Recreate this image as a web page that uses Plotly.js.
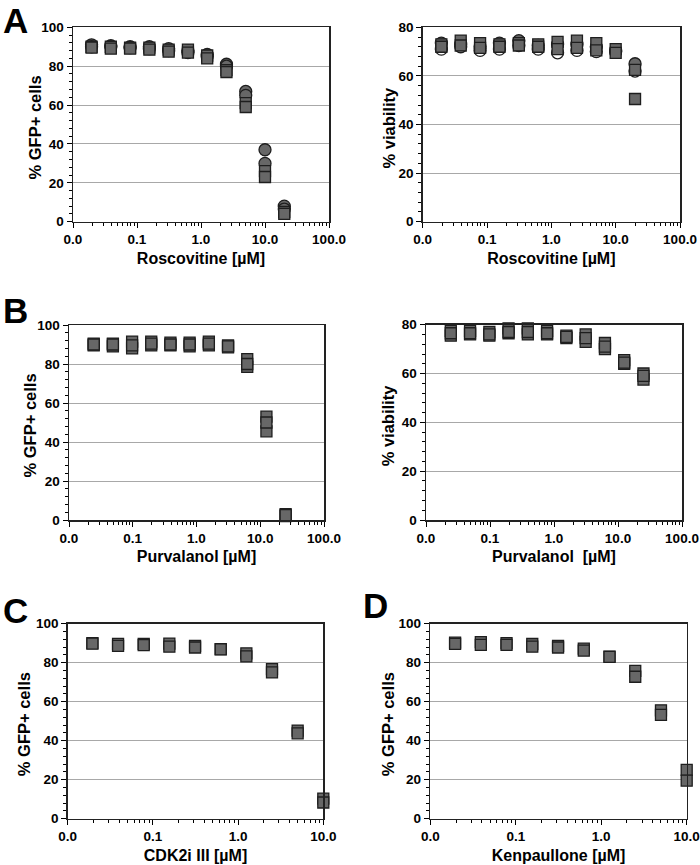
<!DOCTYPE html>
<html>
<head>
<meta charset="utf-8">
<script src="https://cdn.plot.ly/plotly-3.0.1.min.js"></script>
<style>html,body{margin:0;padding:0;background:#fff;}#chart{width:700px;height:865px;}</style>
</head>
<body>
<div id="chart"></div>
<script>
// ---------------- data ----------------
const rosConc = [0.0195, 0.039, 0.078, 0.156, 0.3125, 0.625, 1.25, 2.5, 5, 10, 20];
const rosGfpCircleA = [91, 90.5, 90, 90, 89, 88, 86, 81, 67, 37, 8];
const rosGfpCircleB = [90, 90, 89.5, 89, 88, 87, 85, 80, 65, 30, 6.5];
const rosGfpSquareA = [90, 90, 89.5, 89.5, 88.5, 88.5, 85.5, 78, 61, 26, 5];
const rosGfpSquareB = [89.5, 89, 89, 88.5, 87.5, 87, 84, 77, 59, 23, 4];

const rosViaOpen    = [71, 72, 70.5, 71, 72.5, 71, 69.5, 70.5, 70, 70, 62];
const rosViaCircle  = [73.5, 73, 72, 73.5, 74.5, 72.5, 73, 73, 72, 70.5, 65];
const rosViaSquareA = [73, 74.5, 73.5, 73, 73.5, 73, 74, 74.5, 73.5, 71, 62.5];
const rosViaSquareB = [72, 72.5, 71.5, 72, 72.5, 72, 71, 71.5, 70.5, 69.5, 50.5];

const purConc = [0.0244, 0.0488, 0.0977, 0.195, 0.39, 0.78, 1.5625, 3.125, 6.25, 12.5, 25];
const purGfpA = [90.5, 90.5, 91.5, 91.5, 91, 91, 91.5, 89.5, 82.5, 53, 3];
const purGfpB = [89.5, 89, 88, 89.5, 89.5, 89, 89.5, 88.5, 78.5, 45.5, 2];
const purGfpC = [90, 90, 89.5, 90.5, 90, 90, 90.5, 89, 80, 50, 2.5];

const purViaA = [77.5, 77.5, 77, 78.5, 78.5, 77.5, 75.5, 76, 72.5, 65.5, 60];
const purViaB = [75.5, 76, 75.5, 76.5, 76, 76, 74.5, 73, 70, 64, 57.5];
const purViaC = [76.5, 76.5, 76, 77, 77, 76.5, 75, 74.5, 71, 64.5, 59];

const cdkConc = [0.0195, 0.039, 0.078, 0.156, 0.3125, 0.625, 1.25, 2.5, 5, 10];
const cdkGfpA = [90, 89.7, 89.7, 89.8, 88.6, 87, 84.8, 76.7, 45.2, 10.3];
const cdkGfpB = [89.8, 88.6, 89, 88.2, 87.8, 86.8, 83.2, 75, 43.8, 8.3];

const kenConc = [0.0195, 0.039, 0.078, 0.156, 0.3125, 0.625, 1.25, 2.5, 5, 10];
const kenGfpA = [90.3, 90.6, 90, 89.6, 88.6, 87.2, 83.1, 75.8, 55.6, 25];
const kenGfpB = [89.7, 89.1, 89.1, 88.2, 87.8, 86.2, 83, 72.8, 53.2, 19.5];

const xTickVals4 = [0.01, 0.1, 1, 10, 100];
const xTickText4 = ["0.0", "0.1", "1.0", "10.0", "100.0"];
const xTickVals3 = [0.01, 0.1, 1, 10];
const xTickText3 = ["0.0", "0.1", "1.0", "10.0"];

const panelLetters = ["A", "B", "C", "D"];
const xTitles = ["Roscovitine [µM]", "Roscovitine [µM]", "Purvalanol [µM]", "Purvalanol  [µM]", "CDK2i III [µM]", "Kenpaullone [µM]"];
const yTitles = ["% GFP+ cells", "% viability", "% GFP+ cells", "% viability", "% GFP+ cells", "% GFP+ cells"];

// ---------------- layout helpers ----------------
const W = 700, H = 865;
const FONT = "Liberation Sans, Arial, Helvetica, sans-serif";
const FILL = "#676767", EDGE = "#1e1e1e";

// plot boxes in pixels [left, right, top, bottom]
const boxes = [
  [73, 329, 27.3, 221.7],
  [422.7, 680, 27.3, 221.7],
  [69, 324, 325, 520],
  [426, 682, 324.7, 520],
  [67.7, 323.3, 623.7, 818.7],
  [430.3, 686.7, 623.7, 818.7]
];
const yTitleX = [34, 388, 29, 388, 24, 388];
const yMax = [100, 80, 100, 80, 100, 100];
const xDecades = [[-2, 2], [-2, 2], [-2, 2], [-2, 2], [-2, 1], [-2, 1]];

function minorVals(lo, hi) {
  const v = [];
  for (let e = lo; e < hi; e++) for (let d = 2; d <= 9; d++) v.push(d * Math.pow(10, e));
  return v;
}

const layout = {
  width: W, height: H,
  margin: {l: 0, r: 0, t: 0, b: 0},
  paper_bgcolor: "#fff", plot_bgcolor: "#fff",
  showlegend: false,
  font: {family: FONT, color: "#000"},
  annotations: [],
  shapes: []
};

boxes.forEach((b, i) => {
  const n = i === 0 ? "" : String(i + 1);
  const four = xDecades[i][1] === 2;
  layout["xaxis" + n] = {
    type: "log",
    domain: [b[0] / W, b[1] / W],
    range: xDecades[i],
    anchor: "y" + n,
    tickmode: "array",
    tickvals: four ? xTickVals4 : xTickVals3,
    ticktext: four ? xTickText4 : xTickText3,
    ticks: "outside", ticklen: 5, tickwidth: 1, tickcolor: "#000",
    minor: {tickmode: "array", tickvals: minorVals(xDecades[i][0], xDecades[i][1]), ticks: "outside", ticklen: 3, tickcolor: "#000", showgrid: false},
    showline: true, linecolor: "#222", linewidth: 1.5, mirror: true,
    showgrid: false, zeroline: false,
    ticklabeloverflow: "allow",
    tickfont: {family: FONT, size: 13.5, weight: "bold", color: "#000"},
    title: {text: xTitles[i], font: {family: FONT, size: 16, weight: "bold", color: "#000"}, standoff: 6},
    automargin: false, fixedrange: true
  };
  layout["yaxis" + n] = {
    domain: [1 - b[3] / H, 1 - b[2] / H],
    range: [0, yMax[i]],
    anchor: "x" + n,
    tickmode: "linear", tick0: 0, dtick: 20,
    ticks: "outside", ticklen: 5, tickwidth: 1, tickcolor: "#000",
    minor: {dtick: 4, ticks: "outside", ticklen: 3, tickcolor: "#000", showgrid: false},
    showline: true, linecolor: "#222", linewidth: 1.5, mirror: true,
    showgrid: true, gridcolor: "#a8a8a8", gridwidth: 1,
    zeroline: false,
    ticklabeloverflow: "allow",
    tickfont: {family: FONT, size: 13.5, weight: "bold", color: "#000"},
    automargin: false, fixedrange: true
  };
  // y-axis title as rotated text
  layout.annotations.push({
    text: yTitles[i], xref: "paper", yref: "paper",
    x: yTitleX[i] / W, y: 1 - ((b[2] + b[3]) / 2 + 3) / H,
    xanchor: "center", yanchor: "middle", textangle: -90, showarrow: false,
    font: {family: FONT, size: 16.5, weight: "bold", color: "#000"}
  });
});

// panel letters
const letterPos = [[2, 0], [2, 290], [2, 590], [362, 585]];
panelLetters.forEach((t, i) => {
  layout.annotations.push({
    text: t, xref: "paper", yref: "paper",
    x: letterPos[i][0] / W, y: 1 - letterPos[i][1] / H,
    xanchor: "left", yanchor: "top", showarrow: false, borderpad: 0,
    font: {family: FONT, size: 35, weight: "bold", color: "#000"}
  });
});

// ---------------- traces ----------------
function tr(x, y, n, symbol, fill) {
  return {
    type: "scatter", mode: "markers", x: x, y: y,
    xaxis: "x" + (n === 1 ? "" : n), yaxis: "y" + (n === 1 ? "" : n),
    marker: {symbol: symbol, size: symbol === "square" ? 11 : 12, color: fill || FILL, line: {color: EDGE, width: 1.3}},
    cliponaxis: false,
    hoverinfo: "x+y"
  };
}

const data = [
  tr(rosConc, rosGfpCircleA, 1, "circle"),
  tr(rosConc, rosGfpCircleB, 1, "circle"),
  tr(rosConc, rosGfpSquareA, 1, "square"),
  tr(rosConc, rosGfpSquareB, 1, "square"),

  tr(rosConc, rosViaOpen, 2, "circle", "#ffffff"),
  tr(rosConc, rosViaCircle, 2, "circle"),
  tr(rosConc, rosViaSquareA, 2, "square"),
  tr(rosConc, rosViaSquareB, 2, "square"),

  tr(purConc, purGfpA, 3, "square"),
  tr(purConc, purGfpB, 3, "square"),
  tr(purConc, purGfpC, 3, "square"),

  tr(purConc, purViaA, 4, "square"),
  tr(purConc, purViaB, 4, "square"),
  tr(purConc, purViaC, 4, "square"),

  tr(cdkConc, cdkGfpA, 5, "square"),
  tr(cdkConc, cdkGfpB, 5, "square"),

  tr(kenConc, kenGfpA, 6, "square"),
  tr(kenConc, kenGfpB, 6, "square")
];

Plotly.newPlot("chart", data, layout, {staticPlot: true, displayModeBar: false});
</script>
</body>
</html>
